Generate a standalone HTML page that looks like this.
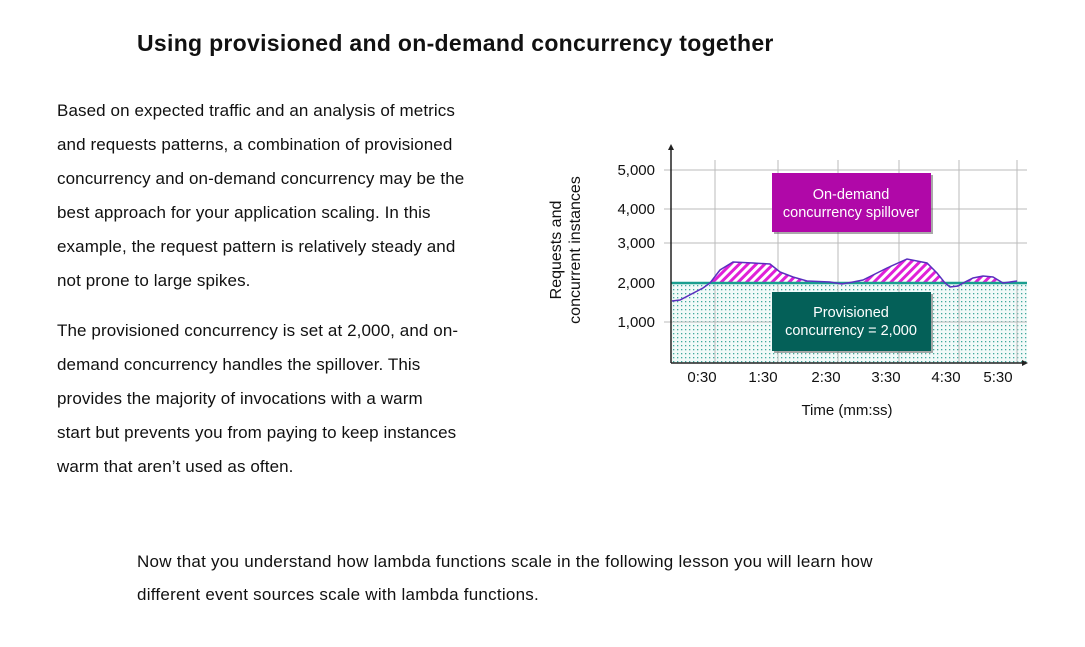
<!DOCTYPE html>
<html><head><meta charset="utf-8"><style>
body{margin:0;width:1085px;height:647px;background:#fff;position:relative;overflow:hidden;font-family:"Liberation Sans",sans-serif;color:#111}
.t{position:absolute;font-size:17px;letter-spacing:0.1px;white-space:nowrap;line-height:20px}
.b{letter-spacing:0.25px}
h1{position:absolute;left:137px;top:30px;margin:0;font-size:23px;letter-spacing:0.3px;font-weight:bold;line-height:26px;white-space:nowrap}
svg{position:absolute;left:0;top:0}
</style></head><body>
<h1>Using provisioned and on-demand concurrency together</h1>
<div class="t" style="left:57px;top:101px">Based on expected traffic and an analysis of metrics</div>
<div class="t" style="left:57px;top:135px">and requests patterns, a combination of provisioned</div>
<div class="t" style="left:57px;top:169px">concurrency and on-demand concurrency may be the</div>
<div class="t" style="left:57px;top:203px">best approach for your application scaling. In this</div>
<div class="t" style="left:57px;top:237px">example, the request pattern is relatively steady and</div>
<div class="t" style="left:57px;top:271px">not prone to large spikes.</div>
<div class="t" style="left:57px;top:321px">The provisioned concurrency is set at 2,000, and on-</div>
<div class="t" style="left:57px;top:355px">demand concurrency handles the spillover. This</div>
<div class="t" style="left:57px;top:389px">provides the majority of invocations with a warm</div>
<div class="t" style="left:57px;top:423px">start but prevents you from paying to keep instances</div>
<div class="t" style="left:57px;top:457px">warm that aren’t used as often.</div>
<div class="t b" style="left:137px;top:552px">Now that you understand how lambda functions scale in the following lesson you will learn how</div>
<div class="t b" style="left:137px;top:585px">different event sources scale with lambda functions.</div>
<svg width="1085" height="647" viewBox="0 0 1085 647" font-family="Liberation Sans, sans-serif">
<defs>
<pattern id="dots" width="4" height="4" patternUnits="userSpaceOnUse"><rect width="4" height="4" fill="#f2faf9"/><rect x="1" y="1" width="1.3" height="1.3" fill="#3fa89c"/></pattern>
<pattern id="hatch" width="6" height="6" patternUnits="userSpaceOnUse" patternTransform="rotate(45)"><rect width="6" height="6" fill="#fff"/><rect width="3" height="6" fill="#e020d8"/></pattern>
<clipPath id="above"><rect x="671" y="150" width="360" height="133"/></clipPath>
</defs>
<rect x="672" y="283" width="355" height="80" fill="url(#dots)"/>
<g stroke="#bbb" stroke-width="1">
<line x1="715" y1="160" x2="715" y2="363"/><line x1="778" y1="160" x2="778" y2="363"/><line x1="838" y1="160" x2="838" y2="363"/><line x1="899" y1="160" x2="899" y2="363"/><line x1="959" y1="160" x2="959" y2="363"/><line x1="1017" y1="160" x2="1017" y2="363"/>
<line x1="664" y1="170" x2="1027" y2="170"/><line x1="664" y1="209" x2="1027" y2="209"/><line x1="664" y1="243" x2="1027" y2="243"/><line x1="664" y1="322" x2="1027" y2="322"/>
</g>
<path clip-path="url(#above)" d="M672,301 L680,300 L703,288 L710,283 L720,270 L733,262 L753,263 L770,264 L780,272 L793,277 L807,281 L830,282 L842,284 L853,282 L863,280 L887,268 L907,259 L927,263 L937,273 L945,283 L950,287 L958,286 L965,282 L973,278 L983,276 L993,277 L1003,283 L1017,281 L1017,283 L672,283 Z" fill="url(#hatch)"/>
<line x1="671" y1="283" x2="1027" y2="283" stroke="#1a9e8f" stroke-width="2.5"/>
<path d="M672,301 L680,300 L703,288 L710,283 L720,270 L733,262 L753,263 L770,264 L780,272 L793,277 L807,281 L830,282 L842,284 L853,282 L863,280 L887,268 L907,259 L927,263 L937,273 L945,283 L950,287 L958,286 L965,282 L973,278 L983,276 L993,277 L1003,283 L1017,281" fill="none" stroke="#5a2fbf" stroke-width="1.5"/>
<line x1="671" y1="147" x2="671" y2="363" stroke="#222" stroke-width="1.5"/>
<path d="M668,150 L671,144 L674,150 Z" fill="#222"/>
<line x1="671" y1="363" x2="1025" y2="363" stroke="#222" stroke-width="1.5"/>
<path d="M1022,360 L1028,363 L1022,366 Z" fill="#222"/>
<rect x="774" y="175" width="159" height="59" fill="#555" opacity="0.5"/>
<rect x="772" y="173" width="159" height="59" fill="#b008a8"/>
<text x="851" y="199" font-size="14.5" fill="#fff" text-anchor="middle">On-demand</text>
<text x="851" y="217" font-size="14.5" fill="#fff" text-anchor="middle">concurrency spillover</text>
<rect x="774" y="294" width="159" height="59" fill="#555" opacity="0.5"/>
<rect x="772" y="292" width="159" height="59" fill="#046058"/>
<text x="851" y="317" font-size="14.5" fill="#fff" text-anchor="middle">Provisioned</text>
<text x="851" y="335" font-size="14.5" fill="#fff" text-anchor="middle">concurrency = 2,000</text>
<g font-size="15" fill="#111" text-anchor="end">
<text x="655" y="175">5,000</text><text x="655" y="214">4,000</text><text x="655" y="248">3,000</text><text x="655" y="288">2,000</text><text x="655" y="327">1,000</text>
</g>
<g font-size="15" fill="#111" text-anchor="middle">
<text x="702" y="382">0:30</text><text x="763" y="382">1:30</text><text x="826" y="382">2:30</text><text x="886" y="382">3:30</text><text x="946" y="382">4:30</text><text x="998" y="382">5:30</text>
<text x="847" y="415">Time (mm:ss)</text>
</g>
<g font-size="16" fill="#111" text-anchor="middle">
<text transform="translate(561,250) rotate(-90)">Requests and</text>
<text transform="translate(580,250) rotate(-90)">concurrent instances</text>
</g>
</svg>
</body></html>
